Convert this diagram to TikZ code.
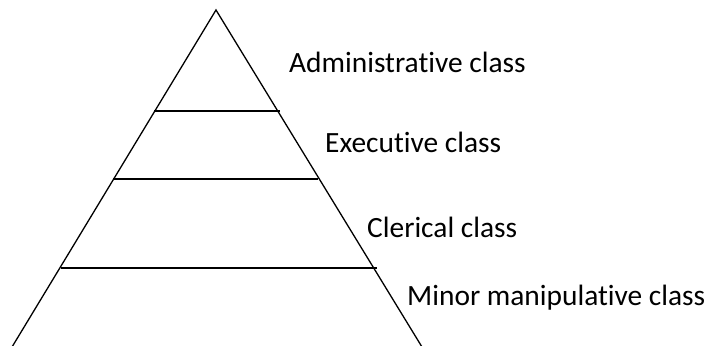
\documentclass[tikz,border=0pt]{standalone}
\usepackage{fontspec}
\setmainfont{Carlito}[Ligatures=NoCommon]
\usepackage{tikz}

\begin{document}
\begin{tikzpicture}[x=1pt,y=-1pt]
		\tikzstyle{side}=[draw=black, line width=1.3pt]
		\tikzstyle{layer}=[draw=black, line width=1.8pt]
		\tikzstyle{class_text}=[anchor=west, inner sep=0pt, font=\fontsize{29.4}{34}\selectfont]

		\useasboundingbox (0,0) rectangle (706,345);

		\coordinate (apex) at (216,10);
		\coordinate (foot-l) at (12,347);
		\coordinate (foot-r) at (422,347);

		\begin{scope}
			\clip (0,0) rectangle (706,345);
			\draw [side] (foot-l) -- (apex) -- (foot-r);
		\end{scope}

		\coordinate (L1-l) at (154,111);
		\coordinate (L1-r) at (280,111);
		\coordinate (L2-l) at (113,179);
		\coordinate (L2-r) at (318,179);
		\coordinate (L3-l) at (61,268);
		\coordinate (L3-r) at (377,268);

		\draw [layer] (L1-l) -- (L1-r);
		\draw [layer] (L2-l) -- (L2-r);
		\draw [layer] (L3-l) -- (L3-r);

		\node (admin) at (289,62) [class_text] {Administrative class};
		\node (exec) at (325,142) [class_text] {Executive class};
		\node (cler) at (367,227) [class_text] {Clerical class};
		\node (minor) at (407,298) [class_text] {Minor manipulative class};
\end{tikzpicture}
\end{document}
